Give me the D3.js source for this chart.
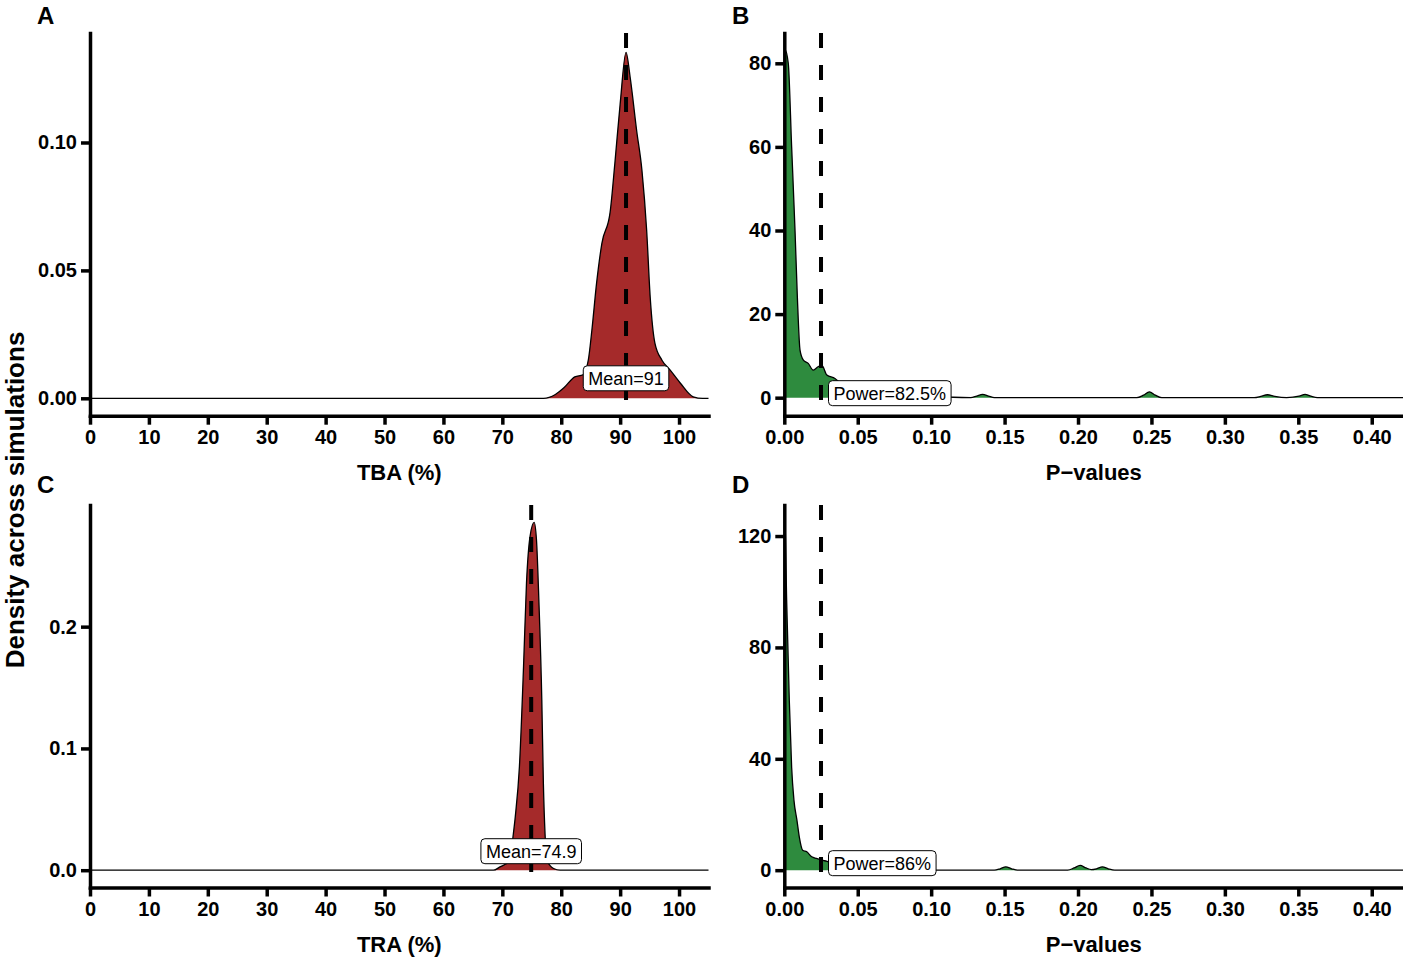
<!DOCTYPE html>
<html>
<head>
<meta charset="utf-8">
<script src="https://cdn.jsdelivr.net/npm/d3@7"></script>
<style>
  body { margin: 0; background: #fff; }
  svg text { font-family: "Liberation Sans", Arial, sans-serif; }
  .tick text { font-weight: bold; font-size: 20px; fill: #000; }
  .tick line { stroke: #000; stroke-width: 3.5; }
  .domain { stroke: #000; stroke-width: 3.5; stroke-linecap: square; }
</style>
</head>
<body>
<div id="chart"></div>
<script>
// TBA density (panel A)
var tbaX       = [0, 77, 79, 80.5, 82.3, 83.7, 84.6, 85.2, 86.0, 86.9, 88.3, 89.1, 90.0, 91.0, 91.7, 92.8, 93.7, 94.5, 95.1, 95.9, 97.1, 98.5, 100.2, 102.4, 104, 105];
var tbaDensity = [0, 0, 0.0015, 0.0042, 0.0084, 0.0092, 0.0150, 0.0266, 0.045, 0.0606, 0.0728, 0.0918, 0.115, 0.1352, 0.1255, 0.1047, 0.0891, 0.0657, 0.0396, 0.0216, 0.0149, 0.011, 0.006, 0.0006, 0, 0];

// p-values for TBA (panel B)
var pTbaX       = [0, 0.0005, 0.0027, 0.005, 0.0073, 0.0089, 0.0107, 0.013, 0.0163, 0.0197, 0.023, 0.0255, 0.029, 0.0345, 0.038, 0.045, 0.06, 0.08, 0.10, 0.115, 0.127, 0.131, 0.135, 0.139, 0.143, 0.155, 0.24, 0.2446, 0.2486, 0.2526, 0.257, 0.32, 0.3245, 0.329, 0.334, 0.342, 0.3506, 0.3546, 0.3586, 0.363, 0.4215];
var pTbaDensity = [82, 83.2, 80, 60, 40, 24, 11.4, 9, 8.2, 6.6, 7.4, 7.8, 5.4, 4.6, 3.5, 2.4, 1.5, 0.9, 0.5, 0.1, 0, 0.4, 0.8, 0.4, 0, 0, 0, 0.6, 1.4, 0.6, 0, 0, 0.3, 0.7, 0.3, 0, 0.35, 0.8, 0.35, 0, 0];

// TRA density (panel C)
var traX       = [0, 68.5, 69.6, 71.3, 71.8, 72.2, 72.9, 73.6, 74.1, 74.7, 75.4, 75.8, 76.2, 76.7, 76.97, 77.25, 77.6, 78.7, 79.8, 105];
var traDensity = [0, 0, 0.0027, 0.008, 0.027, 0.044, 0.085, 0.167, 0.2356, 0.274, 0.2856, 0.271, 0.222, 0.14, 0.071, 0.030, 0.008, 0.0014, 0, 0];

// p-values for TRA (panel D)
var pTraX       = [0, 0.0005, 0.0016, 0.0034, 0.005, 0.0066, 0.0086, 0.0102, 0.0125, 0.0153, 0.0187, 0.022, 0.0255, 0.029, 0.035, 0.045, 0.06, 0.08, 0.143, 0.147, 0.1508, 0.1548, 0.159, 0.193, 0.1974, 0.2014, 0.2054, 0.209, 0.2126, 0.2166, 0.2206, 0.225, 0.4215];
var pTraDensity = [125, 124, 97, 61, 37, 25, 18, 12, 7.2, 6.6, 4.8, 4.2, 3.6, 3.2, 2.2, 1.0, 0.3, 0, 0, 0.5, 1.2, 0.5, 0, 0, 0.8, 1.7, 0.8, 0.2, 0.5, 1.2, 0.5, 0, 0];

var pctTicks   = [0, 10, 20, 30, 40, 50, 60, 70, 80, 90, 100];
var pTicks     = [0, 0.05, 0.10, 0.15, 0.20, 0.25, 0.30, 0.35, 0.40];
var tbaYTicks  = [0, 0.05, 0.10];
var traYTicks  = [0, 0.1, 0.2];
var pTbaYTicks = [0, 20, 40, 60, 80];
var pTraYTicks = [0, 40, 80, 120];

var panelLetters = ["A", "B", "C", "D"];
var labelTexts   = ["Mean=91", "Power=82.5%", "Mean=74.9", "Power=86%"];
var vlines       = [91, 0.025, 74.9, 0.025];
var xTitles      = ["TBA (%)", "P\u2212values", "TRA (%)", "P\u2212values"];

var width = 1403, height = 957;
var red = "#A52A2A", green = "#2E8B3E";

var svg = d3.select('#chart')
  .append('svg')
  .attr('width', width)
  .attr('height', height);

// panel boxes: left, right, top, bottom (pixel)
var rowTop = [33, 505], rowBottom = [415.7, 887.5];
var colLeft = [90, 784.3], colRight = [708.5, 1403.3];

var panels = [
  { xs: tbaX, ys: tbaDensity, fill: red, xDomain: [0, 105], yDomain: [-0.0068, 0.1428],
    xTicks: pctTicks, xFmt: d3.format("d"), yTicks: tbaYTicks, yFmt: d3.format(".2f"),
    row: 0, col: 0, labelMode: "center", labelLift: 20 },
  { xs: pTbaX, ys: pTbaDensity, fill: green, xDomain: [0, 0.4215], yDomain: [-4.31, 87.25],
    xTicks: pTicks, xFmt: d3.format(".2f"), yTicks: pTbaYTicks, yFmt: d3.format("d"),
    row: 0, col: 1, labelMode: "left", labelLift: 4.5 },
  { xs: traX, ys: traDensity, fill: red, xDomain: [0, 105], yDomain: [-0.0142, 0.2999],
    xTicks: pctTicks, xFmt: d3.format("d"), yTicks: traYTicks, yFmt: d3.format(".1f"),
    row: 1, col: 0, labelMode: "center", labelLift: 19 },
  { xs: pTraX, ys: pTraDensity, fill: green, xDomain: [0, 0.4215], yDomain: [-6.22, 131.15],
    xTicks: pTicks, xFmt: d3.format(".2f"), yTicks: pTraYTicks, yFmt: d3.format("d"),
    row: 1, col: 1, labelMode: "left", labelLift: 7 }
];

panels.forEach(function(p, i) {
  drawPanel(p, i);
});

// shared y title
svg.append('text')
  .attr('transform', 'translate(24, 500) rotate(-90)')
  .attr('text-anchor', 'middle')
  .attr('font-size', 26)
  .attr('font-weight', 'bold')
  .text('Density across simulations');

function drawPanel(p, i) {
  var left = colLeft[p.col], right = colRight[p.col];
  var top = rowTop[p.row], bottom = rowBottom[p.row];

  var x = d3.scaleLinear().domain(p.xDomain).range([left, right]);
  var y = d3.scaleLinear().domain(p.yDomain).range([bottom, top]);

  var pts = p.xs.map(function(d, k) { return [d, p.ys[k]]; });

  var g = svg.append('g').attr('class', 'panel-' + i);

  var area = d3.area()
    .x(function(d) { return x(d[0]); })
    .y0(y(0))
    .y1(function(d) { return y(d[1]); })
    .curve(d3.curveMonotoneX);

  var line = d3.line()
    .x(function(d) { return x(d[0]); })
    .y(function(d) { return y(d[1]); })
    .curve(d3.curveMonotoneX);

  g.append('path')
    .datum(pts)
    .attr('d', area)
    .attr('fill', p.fill)
    .attr('stroke', 'none');

  g.append('path')
    .datum(pts)
    .attr('d', line)
    .attr('fill', 'none')
    .attr('stroke', '#000')
    .attr('stroke-width', 1.3);

  // dashed reference line
  g.append('line')
    .attr('x1', x(vlines[i])).attr('x2', x(vlines[i]))
    .attr('y1', top).attr('y2', bottom)
    .attr('stroke', '#000')
    .attr('stroke-width', 4)
    .attr('stroke-dasharray', '15,17');

  // axes
  g.append('g')
    .attr('transform', 'translate(0,' + bottom + ')')
    .call(d3.axisBottom(x).tickValues(p.xTicks).tickFormat(p.xFmt)
      .tickSizeInner(9).tickSizeOuter(0).tickPadding(5));

  g.append('g')
    .attr('transform', 'translate(' + left + ',0)')
    .call(d3.axisLeft(y).tickValues(p.yTicks).tickFormat(p.yFmt)
      .tickSizeInner(9).tickSizeOuter(0).tickPadding(4));

  // label box
  var lab = g.append('g');
  var txt = lab.append('text')
    .attr('font-size', 18)
    .attr('dominant-baseline', 'central')
    .text(labelTexts[i]);
  var bb = txt.node().getBBox();
  var padX = 5, boxH = 25;
  var boxW = bb.width + padX * 2;
  var cy = y(0) - p.labelLift;
  var bx = p.labelMode === "center" ? x(vlines[i]) - boxW / 2 : x(vlines[i]) + 7.5;
  lab.insert('rect', 'text')
    .attr('x', bx).attr('y', cy - boxH / 2)
    .attr('width', boxW).attr('height', boxH)
    .attr('rx', 4).attr('ry', 4)
    .attr('fill', '#fff')
    .attr('stroke', '#000')
    .attr('stroke-width', 1);
  txt.attr('x', bx + padX).attr('y', cy + 1);

  // x title
  g.append('text')
    .attr('x', (left + right) / 2)
    .attr('y', bottom + 64.5)
    .attr('text-anchor', 'middle')
    .attr('font-size', 22)
    .attr('font-weight', 'bold')
    .text(xTitles[i]);

  // panel letter
  g.append('text')
    .attr('x', p.col === 0 ? 37 : 732)
    .attr('y', p.row === 0 ? 24 : 493)
    .attr('font-size', 24)
    .attr('font-weight', 'bold')
    .text(panelLetters[i]);
}
</script>
</body>
</html>
